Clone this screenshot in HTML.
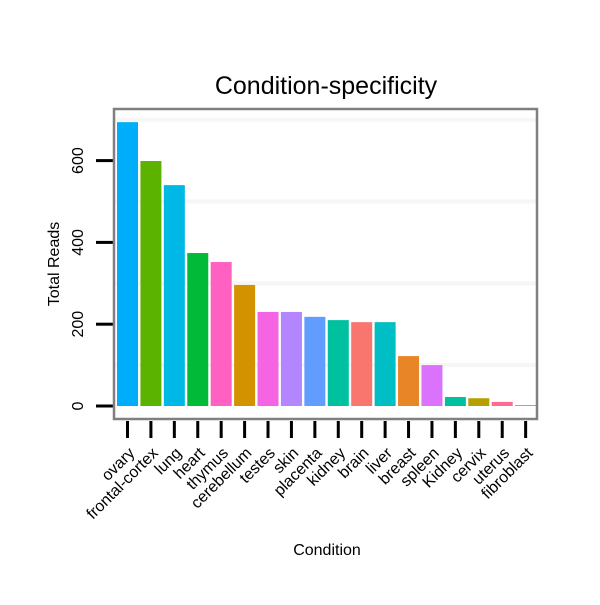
<!DOCTYPE html>
<html><head><meta charset="utf-8"><style>body{margin:0;background:#fff}svg{font-family:"Liberation Sans",sans-serif}</style></head>
<body>
<svg id="c" width="600" height="600">
<text x="326" y="94" font-size="25" text-anchor="middle">Condition-specificity</text>
<text x="0" y="0" font-size="16" text-anchor="middle" transform="translate(59,264) rotate(-90)">Total Reads</text>
<text x="327" y="555" font-size="16" text-anchor="middle">Condition</text>
<g id="g"></g>
</svg>
<script>
const categories=["ovary","frontal-cortex","lung","heart","thymus","cerebellum","testes","skin","placenta","kidney","brain","liver","breast","spleen","Kidney","cervix","uterus","fibroblast"];
const values=[694,599,540,374,352,296,230,230,218,210,205,205,122,100,22,19,10,2];
const colors=["#00ADFA","#5BB300","#00B8E5","#00BA38","#FF61C3","#D39200","#F564E3","#B385FF","#619CFF","#00C19F","#F8766D","#00BFC4","#E88526","#DB72FB","#00C0A0","#B79F00","#FF6C91","#93AA00"];
const yTicks=[0,200,400,600];
const gridVals=[100,300,500,700];
const NS="http://www.w3.org/2000/svg";
const g=document.getElementById('g');
const y=v=>406-v*0.409;
const x=i=>127.5+i*23.42;
function mk(t,a){const e=document.createElementNS(NS,t);for(const k in a)e.setAttribute(k,a[k]);g.appendChild(e);return e;}
for(const v of gridVals){const e=mk('rect',{x:115,y:y(v)-2,width:421,height:4,fill:'#f6f6f6'});

}
categories.forEach((c,i)=>{
const b=mk('rect',{x:x(i)-10.5,y:y(values[i]),width:21,height:406-y(values[i]),fill:colors[i]});


const t=mk('rect',{x:x(i)-1.5,y:421,width:3,height:17,fill:'#000'});


const l=mk('text',{x:0,y:0,'font-size':16,'text-anchor':'end',transform:`translate(${x(i)+8},${454}) rotate(-45)`});
l.textContent=c;


});
for(const v of yTicks){
const t=mk('rect',{x:96,y:y(v)-1.5,width:18,height:3,fill:'#000'});


const l=mk('text',{x:0,y:0,'font-size':16,'text-anchor':'middle',transform:`translate(83,${y(v)}) rotate(-90)`});
l.textContent=v;


}
const f=mk('rect',{x:114,y:109,width:423,height:310,fill:'none',stroke:'#808080','stroke-width':2.5});


</script>
</body></html>
